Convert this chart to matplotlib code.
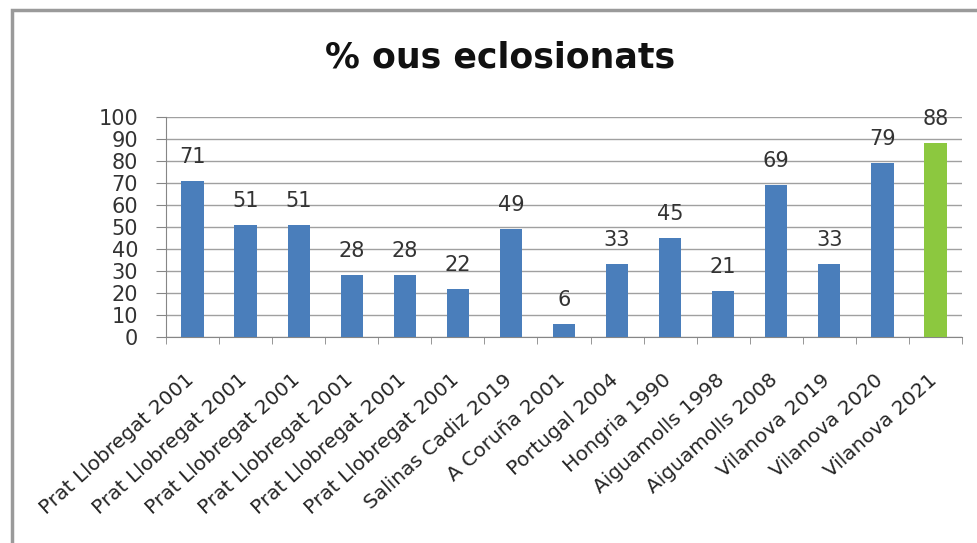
import numpy as np
import matplotlib.pyplot as plt
from matplotlib.patches import Rectangle

# dades del grafic
categories = ["Prat Llobregat 2001", "Prat Llobregat 2001", "Prat Llobregat 2001",
              "Prat Llobregat 2001", "Prat Llobregat 2001", "Prat Llobregat 2001",
              "Salinas Cadiz 2019", "A Coruña 2001", "Portugal 2004", "Hongria 1990",
              "Aiguamolls 1998", "Aiguamolls 2008", "Vilanova 2019", "Vilanova 2020",
              "Vilanova 2021"]
values = [71, 51, 51, 28, 28, 22, 49, 6, 33, 45, 21, 69, 33, 79, 88]
yticks = list(range(0, 101, 10))

blue = "#4a7ebb"
green = "#8cc83f"
colors = [blue] * (len(values) - 1) + [green]

plt.rcParams['font.family'] = ['DejaVu Sans']

fig = plt.figure(figsize=(9.78, 5.43), dpi=100)
ax = fig.add_axes([166 / 978, 1 - 337 / 543, (962 - 166) / 978, (337 - 117) / 543])

x = np.arange(len(values))
bars = ax.bar(x, values, width=0.42, color=colors, zorder=3)

for xi, v in zip(x, values):
    ax.annotate(str(v), (xi, v), xytext=(0, 13), textcoords="offset points",
                ha="center", va="baseline", fontsize=15, color="#333333")

ax.set_xlim(-0.5, len(values) - 0.5)
ax.set_ylim(0, 100)
ax.set_yticks(yticks)
ax.set_yticklabels([str(t) for t in yticks], fontsize=15, color="#333333")
ax.grid(axis="y", color="#a0a0a0", lw=1, zorder=0)

# etiquetes de categoria, una mica desplaçades a l'esquerra com a l'original
ax.set_xticks(x - 0.15)
ax.set_xticklabels(categories, rotation=42, ha="right", rotation_mode="anchor",
                   fontsize=14.5, color="#262626")
ax.tick_params(axis="x", which="major", length=0, pad=24)
ax.set_xticks(np.arange(-0.5, len(values), 1.0), minor=True)
ax.tick_params(axis="x", which="minor", length=5, color="#868686", direction="out")
ax.tick_params(axis="y", length=7, color="#868686", pad=13)

for s in ["top", "right"]:
    ax.spines[s].set_visible(False)
ax.spines["left"].set_color("#868686")
ax.spines["bottom"].set_color("#868686")

fig.text(500 / 978, 1 - 68 / 543, "% ous eclosionats", ha="center", va="baseline",
         fontsize=25, fontweight="bold", color="#111111")

# marc exterior
fig.patches.append(Rectangle((12 / 978, -0.1), 2, 1 - 10 / 543 + 0.1,
                             transform=fig.transFigure, fill=False,
                             ec="#9a9a9a", lw=2.5))

fig.savefig("out.png", dpi=100)
